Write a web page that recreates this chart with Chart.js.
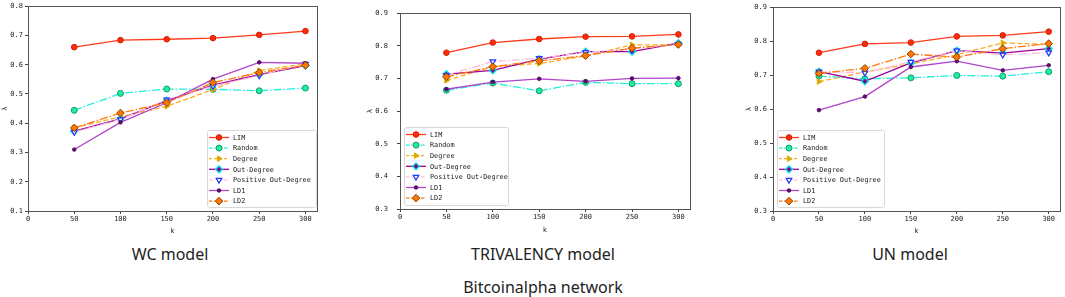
<!DOCTYPE html>
<html>
<head>
<meta charset="utf-8">
<script src="https://cdn.jsdelivr.net/npm/chart.js@4/dist/chart.umd.min.js"></script>
<style>
html,body{margin:0;padding:0;background:#fff;width:1065px;height:297px;overflow:hidden;position:relative;}
canvas{position:absolute;}
.cap{position:absolute;font-family:"Noto Sans",sans-serif;font-size:16px;color:#222;transform:translate(-50%,-50%);white-space:nowrap;}
</style>
</head>
<body>
<canvas id="c1" width="330" height="240" style="left:0px;top:0px;width:330px;height:240px"></canvas>
<canvas id="c2" width="335" height="240" style="left:360px;top:0px;width:335px;height:240px"></canvas>
<canvas id="c3" width="325" height="240" style="left:740px;top:0px;width:325px;height:240px"></canvas>
<div class="cap" style="left:170px;top:254px">WC model</div>
<div class="cap" style="left:543px;top:254px">TRIVALENCY model</div>
<div class="cap" style="left:910px;top:254px">UN model</div>
<div class="cap" style="left:543px;top:287px">Bitcoinalpha network</div>
<script>
// ---- data ----
const kValues = [50, 100, 150, 200, 250, 300];
const seriesNames = ["LIM", "Random", "Degree", "Out-Degree", "Positive Out-Degree", "LD1", "LD2"];

const wcLIM     = [0.660, 0.684, 0.687, 0.691, 0.702, 0.715];
const wcRandom  = [0.444, 0.502, 0.517, 0.516, 0.511, 0.520];
const wcDegree  = [0.384, 0.422, 0.458, 0.515, 0.580, 0.603];
const wcOutDeg  = [0.373, 0.415, 0.477, 0.530, 0.566, 0.597];
const wcPosOut  = [0.370, 0.413, 0.480, 0.527, 0.563, 0.603];
const wcLD1     = [0.310, 0.403, 0.470, 0.551, 0.608, 0.605];
const wcLD2     = [0.384, 0.435, 0.470, 0.539, 0.573, 0.598];

const triLIM    = [0.779, 0.810, 0.821, 0.828, 0.829, 0.835];
const triRandom = [0.664, 0.686, 0.662, 0.688, 0.684, 0.684];
const triDegree = [0.694, 0.736, 0.746, 0.769, 0.803, 0.803];
const triOutDeg = [0.713, 0.725, 0.759, 0.782, 0.782, 0.808];
const triPosOut = [0.710, 0.752, 0.762, 0.780, 0.790, 0.805];
const triLD1    = [0.667, 0.689, 0.699, 0.691, 0.700, 0.701];
const triLD2    = [0.705, 0.736, 0.754, 0.770, 0.793, 0.804];

const unLIM     = [0.766, 0.792, 0.796, 0.814, 0.817, 0.828];
const unRandom  = [0.697, 0.689, 0.692, 0.699, 0.697, 0.710];
const unDegree  = [0.681, 0.709, 0.733, 0.760, 0.795, 0.790];
const unOutDeg  = [0.710, 0.682, 0.736, 0.772, 0.765, 0.778];
const unPosOut  = [0.710, 0.707, 0.739, 0.772, 0.760, 0.766];
const unLD1     = [0.597, 0.637, 0.724, 0.741, 0.714, 0.729];
const unLD2     = [0.705, 0.720, 0.762, 0.753, 0.778, 0.793];

const xTicks = [0, 50, 100, 150, 200, 250, 300];
const yTicksWC = [0.1, 0.2, 0.3, 0.4, 0.5, 0.6, 0.7, 0.8];
const yTicksOther = [0.3, 0.4, 0.5, 0.6, 0.7, 0.8, 0.9];

// ---- styles ----
const styles = [
  {line:'#ff3a1a', dash:[], fill:'#ff2a10', edge:'#d02000', shape:'circle', r:2.8, rot:0, bw:1},
  {line:'#22eedd', dash:[8,2,1.5,2], fill:'#22ee99', edge:'#119977', shape:'circle', r:3, rot:0, bw:1},
  {line:'#ffaa22', dash:[5,2.5], fill:'#ddaa00', edge:'#ddaa00', shape:'triangle', r:3.2, rot:90, bw:1},
  {line:'#990099', dash:[], fill:'#880088', edge:'#00e0e8', shape:'rectRot', r:3.4, rot:0, bw:1.4},
  {line:'#ffbbdd', dash:[8,2,1.5,2], fill:'#ffffff', edge:'#2233ff', shape:'triangle', r:3.2, rot:180, bw:1.2},
  {line:'#b044c8', dash:[], fill:'#6a0a80', edge:'#40004c', shape:'circle', r:1.8, rot:0, bw:0.8},
  {line:'#ff7711', dash:[8,2,1.5,2], fill:'#ff7700', edge:'#7a3a00', shape:'rectRot', r:3.8, rot:0, bw:0.9},
];

function makeDatasets(arrs){
  return arrs.map((vals,i)=>{
    const s = styles[i];
    return {
      label: seriesNames[i],
      data: kValues.map((k,j)=>({x:k, y:vals[j]})),
      borderColor: s.line,
      borderWidth: 1.3,
      borderDash: s.dash,
      backgroundColor: s.fill,
      pointBackgroundColor: s.fill,
      pointBorderColor: s.edge,
      pointBorderWidth: s.bw,
      pointStyle: s.shape,
      pointRadius: s.r,
      pointRotation: s.rot,
      pointHoverRadius: s.r,
      tension: 0,
      fill: false,
      order: 10 - i
    };
  });
}

function drawMarker(ctx, s, x, y){
  ctx.save();
  ctx.setLineDash([]);
  ctx.fillStyle = s.fill; ctx.strokeStyle = s.edge; ctx.lineWidth = s.bw;
  ctx.translate(x,y);
  ctx.rotate(s.rot*Math.PI/180);
  ctx.beginPath();
  const r = s.r;
  if (s.shape==='circle') ctx.arc(0,0,r,0,Math.PI*2);
  else if (s.shape==='triangle'){
    ctx.moveTo(0,-r); ctx.lineTo(r*0.866,r*0.5); ctx.lineTo(-r*0.866,r*0.5); ctx.closePath();
  } else if (s.shape==='rectRot'){
    ctx.moveTo(0,-r); ctx.lineTo(r,0); ctx.lineTo(0,r); ctx.lineTo(-r,0); ctx.closePath();
  }
  ctx.fill(); ctx.stroke();
  ctx.restore();
}

const framePlugin = {
  id:'frameLegend',
  afterDraw(chart, args, opts){
    const ctx = chart.ctx, ca = chart.chartArea;
    ctx.save();
    ctx.strokeStyle = '#555'; ctx.lineWidth = 1; ctx.setLineDash([]);
    ctx.strokeRect(Math.round(ca.left)+0.5, Math.round(ca.top)+0.5, Math.round(ca.right-ca.left), Math.round(ca.bottom-ca.top));
    // legend
    const bx = opts.alignRight ? ca.right - opts.w - 1 : ca.left + opts.dx;
    const by = ca.bottom - opts.h - 4;
    ctx.fillStyle = 'rgba(255,255,255,0.85)';
    ctx.strokeStyle = '#d8d8d8';
    ctx.beginPath();
    if (ctx.roundRect) ctx.roundRect(bx+0.5, by+0.5, opts.w, opts.h, 2); else ctx.rect(bx+0.5, by+0.5, opts.w, opts.h);
    ctx.fill(); ctx.stroke();
    ctx.font = '6.8px "DejaVu Sans Mono", monospace';
    ctx.textBaseline = 'middle';
    for (let i=0;i<seriesNames.length;i++){
      const s = styles[i];
      const yy = by + 7.5 + i*10.6;
      ctx.save();
      ctx.strokeStyle = s.line; ctx.lineWidth = 1.3; ctx.setLineDash(s.dash.length? [3.5,1.5,1,1.5] : []);
      if (i===2) ctx.setLineDash([3,2]);
      ctx.beginPath(); ctx.moveTo(bx+2, yy); ctx.lineTo(bx+22, yy); ctx.stroke();
      ctx.restore();
      drawMarker(ctx, s, bx+12, yy);
      ctx.fillStyle = '#222';
      ctx.fillText(seriesNames[i], bx+26, yy+0.5);
    }
    ctx.restore();
  }
};

function makeChart(id, arrs, yMin, yMax, yTicks, cfg){
  const tickFont = {family:'"DejaVu Sans Mono", monospace', size:7};
  return new Chart(document.getElementById(id), {
    type:'line',
    data:{datasets: makeDatasets(arrs)},
    options:{
      responsive:false, animation:false, devicePixelRatio:1,
      layout:{padding:{top:cfg.top, right:cfg.right, left:0, bottom:0}},
      plugins:{legend:{display:false}, tooltip:{enabled:false}, frameLegend:cfg.legend},
      scales:{
        x:{type:'linear', min:0, max:312.5,
           afterBuildTicks(sc){ sc.ticks = xTicks.map(v=>({value:v})); },
           afterFit(sc){ sc.height = cfg.xh; },
           ticks:{font:tickFont, color:'#222', padding:1, maxRotation:0, autoSkip:false, callback:v=>String(v)},
           grid:{display:true, drawOnChartArea:false, drawTicks:true, tickLength:3, color:'#444'},
           border:{display:true, color:'#555'},
           title:{display:true, text:'k', font:{family:'"DejaVu Sans", sans-serif', size:7}, color:'#222', padding:{top:0,bottom:cfg.kpad}}
        },
        y:{type:'linear', min:yMin, max:yMax,
           afterBuildTicks(sc){ sc.ticks = yTicks.map(v=>({value:v})); },
           afterFit(sc){ sc.width = cfg.yw; },
           ticks:{font:tickFont, color:'#222', padding:cfg.ypad, autoSkip:false, callback:v=>v.toFixed(1)},
           grid:{display:true, drawOnChartArea:false, drawTicks:true, tickLength:3, color:'#444'},
           border:{display:true, color:'#555'},
           title:{display:true, text:'λ', font:{family:'"DejaVu Sans", sans-serif', size:7}, color:'#222', padding:{top:cfg.lpad,bottom:0}}
        }
      }
    },
    plugins:[framePlugin]
  });
}

makeChart('c1', [wcLIM,wcRandom,wcDegree,wcOutDeg,wcPosOut,wcLD1,wcLD2], 0.1, 0.8, yTicksWC,
  {top:6, right:13, xh:29, yw:28, ypad:2, kpad:5, lpad:1, legend:{alignRight:true, w:109, h:77, dx:0}});
makeChart('c2', [triLIM,triRandom,triDegree,triOutDeg,triPosOut,triLD1,triLD2], 0.3, 0.9, yTicksOther,
  {top:5, right:5, xh:31, yw:40, ypad:9, kpad:6, lpad:6, legend:{alignRight:false, w:104, h:78, dx:4}});
makeChart('c3', [unLIM,unRandom,unDegree,unOutDeg,unPosOut,unLD1,unLD2], 0.3, 0.9, yTicksOther,
  {top:6, right:2, xh:29, yw:33, ypad:3, kpad:5, lpad:5, legend:{alignRight:false, w:107, h:77, dx:4}});
</script>
</body>
</html>
